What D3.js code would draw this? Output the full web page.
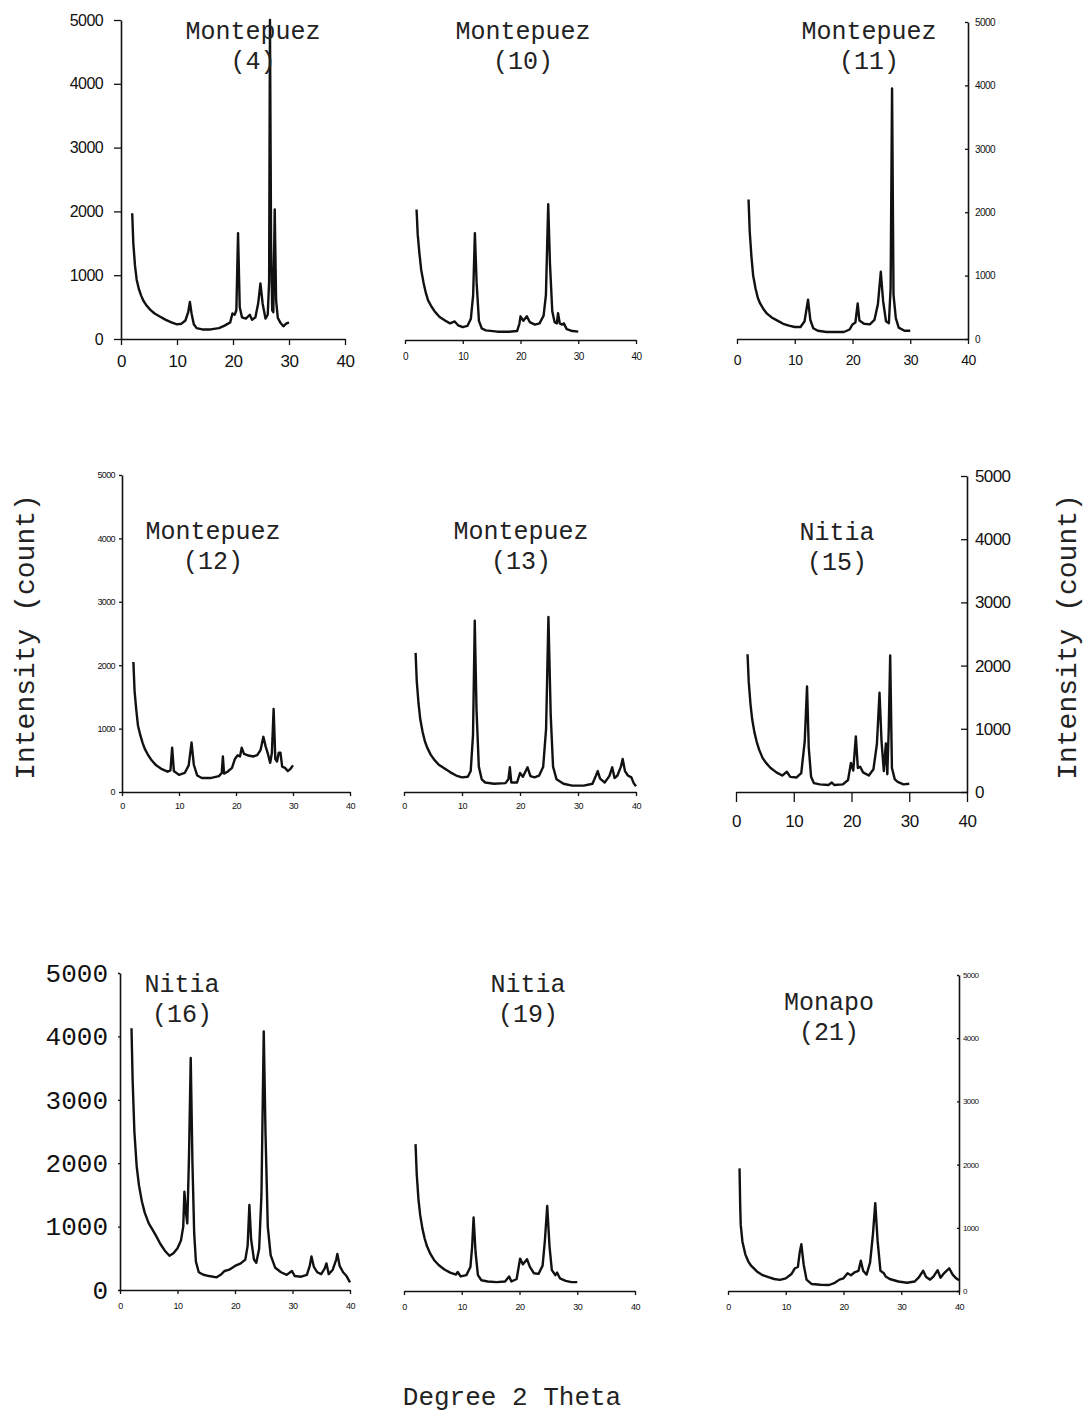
<!DOCTYPE html>
<html><head><meta charset="utf-8">
<script src="https://cdn.jsdelivr.net/npm/d3@7"></script>
<style>body{margin:0;background:#fff} svg{display:block}</style>
</head><body><svg id="c" width="1088" height="1421"></svg>
<script>
// ---- data: [2-theta, intensity count] ----
const montepuez4 = [[2,1970],[2.2,1500],[2.5,1150],[2.8,930],[3.2,780],[3.6,680],[4,600],[4.6,520],[5.2,460],[6,400],[7,350],[8,300],[9,260],[10,230],[10.8,240],[11.5,290],[12,420],[12.3,580],[12.6,400],[13,230],[13.5,170],[14.5,150],[16,150],[17.5,170],[18.5,210],[19.5,260],[19.9,400],[20.3,380],[20.6,450],[20.9,1660],[21.2,500],[21.6,340],[22.3,320],[23,380],[23.4,300],[24,340],[24.5,560],[24.9,870],[25.3,550],[25.8,320],[26.2,380],[26.45,900],[26.6,5000],[26.8,1500],[27.0,450],[27.2,420],[27.45,2030],[27.7,600],[28,330],[28.5,250],[29,200],[29.5,240],[30,260]];
const montepuez10 = [[2,2040],[2.2,1650],[2.5,1350],[2.8,1100],[3.2,900],[3.6,740],[4,620],[4.6,520],[5.2,440],[6,360],[7,300],[7.8,260],[8.6,290],[9.2,230],[10,200],[10.8,220],[11.4,330],[11.8,700],[12.1,1670],[12.4,900],[12.8,300],[13.3,180],[14,150],[16,130],[18,130],[19.4,140],[19.8,250],[20,370],[20.5,300],[21.1,370],[21.6,280],[22.5,240],[23.3,260],[24,380],[24.4,700],[24.8,2120],[25.1,1200],[25.5,450],[25.9,280],[26.3,260],[26.5,420],[26.8,260],[27.2,240],[27.5,260],[28,170],[29,140],[30,130]];
const montepuez11 = [[2,2200],[2.2,1700],[2.5,1300],[2.8,1000],[3.2,800],[3.6,650],[4,560],[4.6,470],[5.2,400],[6,340],[7,290],[8,240],[9,210],[10,190],[11,190],[11.7,280],[12.3,620],[12.7,300],[13.2,170],[14,130],[15.5,110],[17,110],[18.5,110],[19.5,150],[20,230],[20.5,260],[20.9,560],[21.2,290],[22,240],[23,230],[23.8,300],[24.4,550],[24.9,1060],[25.3,600],[25.8,280],[26.3,250],[26.6,800],[26.85,3950],[27.1,700],[27.5,330],[28,180],[29,130],[30,130]];
const montepuez12 = [[2,2050],[2.2,1600],[2.5,1300],[2.8,1050],[3.2,900],[3.6,780],[4,680],[4.6,580],[5.2,500],[6,420],[7,360],[8,320],[8.5,340],[8.8,700],[9.1,330],[10,270],[11,300],[11.7,420],[12.2,780],[12.6,430],[13.2,260],[14,220],[15.5,220],[17,250],[17.5,300],[17.7,560],[17.9,290],[18.5,320],[19.3,380],[19.8,520],[20.3,580],[20.7,560],[21,700],[21.4,600],[22,580],[23,560],[23.7,580],[24.3,660],[24.8,870],[25.2,720],[25.6,600],[26,460],[26.3,620],[26.6,1310],[26.9,520],[27.2,480],[27.5,620],[27.8,620],[28.1,400],[28.6,380],[29.1,330],[29.5,360],[30,420]];
const montepuez13 = [[2,2195],[2.2,1750],[2.5,1400],[2.8,1150],[3.2,950],[3.6,800],[4,700],[4.6,590],[5.2,510],[6,430],[7,370],[8,310],[9,260],[10,230],[11,240],[11.5,330],[11.9,900],[12.2,2700],[12.5,1300],[12.9,400],[13.4,200],[14,150],[15.5,130],[17.5,140],[18,200],[18.25,390],[18.5,150],[19.5,150],[20,300],[20.5,240],[21.3,390],[21.8,250],[22.5,230],[23.3,260],[24,400],[24.5,1000],[24.9,2760],[25.3,1200],[25.7,400],[26.3,200],[27.5,130],[29,100],[31,100],[32.5,130],[33.1,260],[33.4,330],[33.8,210],[34.6,150],[35.4,250],[35.9,390],[36.3,220],[36.8,260],[37.4,400],[37.7,520],[38.1,330],[38.6,260],[39.2,230],[39.6,140],[40,90]];
const nitia15 = [[2,2180],[2.2,1750],[2.5,1400],[2.8,1150],[3.2,940],[3.6,790],[4,670],[4.6,540],[5.2,460],[6,380],[7,310],[8,260],[8.8,320],[9.4,240],[10.5,230],[11.3,300],[11.9,800],[12.3,1670],[12.6,700],[13,240],[13.5,140],[14.5,120],[16,110],[16.6,150],[17,110],[18.5,120],[19.4,190],[19.9,460],[20.3,340],[20.75,880],[21.1,380],[21.5,400],[22,310],[23,260],[23.8,360],[24.4,760],[24.85,1570],[25.2,800],[25.6,330],[25.95,770],[26.2,280],[26.45,1000],[26.7,2160],[27,380],[27.5,200],[28,160],[29,120],[30,130]];
const nitia16 = [[2,4130],[2.2,3300],[2.5,2500],[2.9,1950],[3.3,1650],[3.8,1400],[4.3,1220],[5,1050],[5.6,960],[6.3,850],[7,730],[7.8,620],[8.6,540],[9.3,580],[10,660],[10.6,780],[11,1000],[11.2,1550],[11.5,1200],[11.7,1050],[12,2100],[12.3,3660],[12.6,2000],[12.9,900],[13.2,450],[13.7,280],[14.5,240],[15.5,220],[16.8,200],[17.5,240],[18.2,300],[19,320],[20,380],[21,420],[21.8,480],[22.2,700],[22.5,1340],[22.8,800],[23.3,480],[23.7,430],[24.2,650],[24.6,1500],[25,4080],[25.3,2500],[25.7,1000],[26.2,550],[27,350],[28,280],[29,240],[29.9,300],[30.4,220],[31.5,210],[32.5,240],[33,380],[33.3,530],[33.7,370],[34.3,280],[35,250],[35.6,340],[35.9,420],[36.3,250],[37,320],[37.6,480],[37.8,570],[38.2,380],[38.8,280],[39.4,220],[40,120]];
const nitia19 = [[2,2316],[2.2,1850],[2.5,1450],[2.8,1200],[3.2,980],[3.6,820],[4,700],[4.6,580],[5.2,490],[6,410],[7,340],[8,290],[9,260],[9.3,300],[9.8,230],[10.8,250],[11.5,380],[11.8,700],[12.05,1160],[12.4,600],[12.8,250],[13.4,170],[14.5,150],[16,140],[17.5,150],[18.2,230],[18.6,150],[19.5,190],[19.9,400],[20.1,510],[20.6,420],[21.3,500],[21.8,380],[22.5,280],[23.3,270],[24,400],[24.4,800],[24.8,1340],[25.2,700],[25.6,330],[26.2,250],[26.5,290],[27,200],[28,160],[29,140],[30,140]];
const monapo21 = [[2,1940],[2.1,1400],[2.2,1050],[2.5,780],[3,580],[3.5,470],[4,400],[5,310],[6,250],[7,220],[8,190],[9,175],[10,200],[11,270],[11.6,360],[12.1,380],[12.4,600],[12.7,740],[13.1,420],[13.6,180],[14.5,110],[16,100],[17.5,95],[18.5,130],[19.3,180],[20,200],[20.7,280],[21.3,250],[22,300],[22.6,320],[23,480],[23.4,320],[24,260],[24.6,450],[25.1,900],[25.5,1390],[25.9,800],[26.4,320],[27,280],[27.3,230],[28,190],[29.5,150],[31,130],[32.3,150],[33,210],[33.8,320],[34.3,220],[35,180],[35.6,230],[36.3,330],[36.8,210],[37.4,280],[38.3,360],[38.9,260],[39.5,200],[40,170]];

const siteNames = ["Montepuez","Montepuez","Montepuez","Montepuez","Montepuez","Nitia","Nitia","Nitia","Monapo"];
const sampleIds = ["(4)","(10)","(11)","(12)","(13)","(15)","(16)","(19)","(21)"];
const xTicks = [0,10,20,30,40];
const yTicks = [0,1000,2000,3000,4000,5000];
const xDomain = [0,40];
const yDomain = [0,5000];
const yAxisTitle = "Intensity (count)";
const xAxisTitle = "Degree 2 Theta";

// ---- layout ----
const mono = "'Courier New','Liberation Mono',monospace";
const sans = "Arial,'Liberation Sans',Helvetica,sans-serif";
const series = [montepuez4, montepuez10, montepuez11, montepuez12, montepuez13, nitia15, nitia16, nitia19, monapo21];
const panels = [
  {xr:[121,345], yr:[339,20], yAxis:"left",  ytick:7,  ypad:11, yfs:16, yfont:sans, xtick:6, xpad:10, xfs:17, tx:253, ty:39},
  {xr:[405,636], yr:[340,20], yAxis:null,    xtick:4, xpad:9,  xfs:10, tx:523, ty:39},
  {xr:[737,968], yr:[339,22], yAxis:"right", ytick:-3, ypad:7, yfs:10, yfont:sans, xtick:5, xpad:11, xfs:14, tx:869, ty:39},
  {xr:[122,350], yr:[792,475], yAxis:"left", ytick:3,  ypad:4, yfs:9, yfont:sans, xtick:4, xpad:7, xfs:9, tx:213, ty:539},
  {xr:[404,636], yr:[792,475], yAxis:null,   xtick:4, xpad:7, xfs:9, tx:521, ty:539},
  {xr:[736,967], yr:[792,476], yAxis:"right", ytick:-6, ypad:8, yfs:17, yfont:sans, xtick:10, xpad:13, xfs:17, tx:837, ty:540},
  {xr:[120,350], yr:[1290,973], yAxis:"left", ytick:2, ypad:10, yfs:26, yfont:mono, xtick:4, xpad:9, xfs:9, tx:182, ty:992},
  {xr:[404,635], yr:[1291,974], yAxis:null,  xtick:4, xpad:9, xfs:9, tx:528, ty:992},
  {xr:[728,959], yr:[1291,975], yAxis:"right", ytick:-2, ypad:4, yfs:8, yfont:sans, xtick:4, xpad:9, xfs:9, tx:829, ty:1010}
];

const svg = d3.select("#c");
const fmt = d3.format("d");

panels.forEach((p, i) => {
  const x = d3.scaleLinear().domain(xDomain).range(p.xr);
  const y = d3.scaleLinear().domain(yDomain).range(p.yr);
  const g = svg.append("g");

  const gx = g.append("g").attr("transform", `translate(0,${p.yr[0]})`)
    .call(d3.axisBottom(x).tickValues(xTicks).tickFormat(fmt).tickSize(p.xtick).tickSizeOuter(0).tickPadding(p.xpad));
  gx.selectAll("text").style("font-family", sans).style("font-size", p.xfs + "px")
    .style("letter-spacing", "-0.5px").attr("fill", "#111");
  gx.selectAll("line").attr("stroke", "#111").attr("stroke-width", 1.3);
  gx.select(".domain").attr("stroke", "#111").attr("stroke-width", 1.5);

  if (p.yAxis) {
    const ax = (p.yAxis === "left" ? d3.axisLeft(y) : d3.axisRight(y))
      .tickValues(yTicks).tickFormat(fmt).tickSize(p.ytick).tickSizeOuter(0).tickPadding(p.ypad);
    const gy = g.append("g")
      .attr("transform", `translate(${p.yAxis === "left" ? p.xr[0] : p.xr[1]},0)`)
      .call(ax);
    gy.selectAll("text").style("font-family", p.yfont).style("font-size", p.yfs + "px")
      .style("letter-spacing", p.yfont === mono ? "0px" : "-0.6px").attr("fill", "#111");
    gy.selectAll("line").attr("stroke", "#111").attr("stroke-width", 1.3);
    gy.select(".domain").attr("stroke", "#111").attr("stroke-width", 1.6);
  }

  const line = d3.line().x(d => x(d[0])).y(d => y(Math.min(d[1], yDomain[1])));
  g.append("path").datum(series[i]).attr("d", line)
    .attr("fill", "none").attr("stroke", "#111").attr("stroke-width", 2.4)
    .attr("stroke-linejoin", "round");

  const t = g.append("text").attr("text-anchor", "middle")
    .style("font-family", mono).style("font-size", "25px").attr("fill", "#222");
  t.append("tspan").attr("x", p.tx).attr("y", p.ty).text(siteNames[i]);
  t.append("tspan").attr("x", p.tx).attr("y", p.ty + 30).text(sampleIds[i]);
});

svg.append("text").attr("transform", "translate(26,637) rotate(-90)")
  .attr("text-anchor", "middle").attr("dominant-baseline", "central")
  .style("font-family", mono).style("font-size", "28px").attr("fill", "#222").text(yAxisTitle);
svg.append("text").attr("transform", "translate(1068,637) rotate(-90)")
  .attr("text-anchor", "middle").attr("dominant-baseline", "central")
  .style("font-family", mono).style("font-size", "28px").attr("fill", "#222").text(yAxisTitle);
svg.append("text").attr("x", 512).attr("y", 1405).attr("text-anchor", "middle")
  .style("font-family", mono).style("font-size", "26px").attr("fill", "#222").text(xAxisTitle);
</script></body></html>
